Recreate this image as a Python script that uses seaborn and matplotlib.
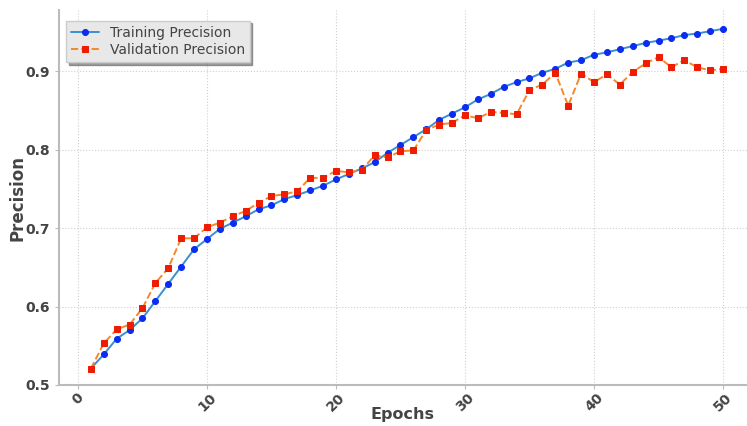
import matplotlib
matplotlib.use("Agg")
import matplotlib.pyplot as plt
import seaborn as sns
import numpy as np
import pandas as pd

epochs = list(range(1, 51))
train_precision = [0.521, 0.539, 0.559, 0.570, 0.585, 0.607, 0.629, 0.651, 0.673, 0.686,
                   0.699, 0.707, 0.715, 0.724, 0.729, 0.737, 0.742, 0.748, 0.754, 0.762,
                   0.769, 0.776, 0.784, 0.796, 0.806, 0.816, 0.826, 0.838, 0.846, 0.854,
                   0.864, 0.871, 0.880, 0.886, 0.891, 0.898, 0.903, 0.911, 0.914, 0.921,
                   0.924, 0.928, 0.932, 0.936, 0.939, 0.942, 0.946, 0.948, 0.951, 0.954]
val_precision = [0.521, 0.553, 0.571, 0.577, 0.598, 0.630, 0.649, 0.687, 0.687, 0.701,
                 0.707, 0.715, 0.722, 0.732, 0.741, 0.743, 0.747, 0.764, 0.764, 0.773,
                 0.771, 0.774, 0.793, 0.790, 0.798, 0.799, 0.825, 0.832, 0.834, 0.844,
                 0.840, 0.848, 0.847, 0.845, 0.876, 0.883, 0.898, 0.856, 0.897, 0.886,
                 0.896, 0.883, 0.899, 0.910, 0.918, 0.905, 0.914, 0.905, 0.901, 0.903]

df = pd.DataFrame({"Epochs": epochs, "Training Precision": train_precision,
                   "Validation Precision": val_precision})

sns.set_style("whitegrid", {"grid.linestyle": ":", "grid.color": "#d0d0d0",
                            "axes.edgecolor": "#bbbbbb"})
plt.rcParams['font.family'] = ['DejaVu Sans']

fig = plt.figure(figsize=(7.47, 4.26), dpi=100)
ax = fig.add_axes([59/747, 1 - 385/426, (747 - 59)/747, (385 - 10)/426])

sns.lineplot(data=df, x="Epochs", y="Training Precision", ax=ax, color="#3a8fd0",
             linewidth=1.4, marker="o", markersize=4.3, markerfacecolor="#0a2df0",
             markeredgecolor="#0a2df0", label="Training Precision")
sns.lineplot(data=df, x="Epochs", y="Validation Precision", ax=ax, color="#f5882a",
             linewidth=1.4, linestyle="--", marker="s", markersize=4.3,
             markerfacecolor="#ee1c00", markeredgecolor="#ee1c00",
             label="Validation Precision")

ax.set_xlim(-1.47, 51.86)
ax.set_ylim(0.5, 0.978)
ax.set_xticks([0, 10, 20, 30, 40, 50])
ax.set_yticks([0.5, 0.6, 0.7, 0.8, 0.9])
ax.set_yticklabels(["0.5", "0.6", "0.7", "0.8", "0.9"])
for lbl in ax.get_xticklabels():
    lbl.set_rotation(45)
    lbl.set_fontweight("bold")
    lbl.set_color("#444444")
for lbl in ax.get_yticklabels():
    lbl.set_fontweight("bold")
    lbl.set_color("#444444")
ax.tick_params(axis="both", labelsize=10, length=3, color="#bbbbbb", left=True, bottom=True)
ax.tick_params(axis="x", pad=1)
ax.set_xlabel("Epochs", fontsize=11.5, fontweight="bold", color="#444444", labelpad=-5)
ax.set_ylabel("Precision", fontsize=12, fontweight="bold", color="#444444", labelpad=-1)
ax.spines["top"].set_visible(False)
ax.spines["right"].set_visible(False)
ax.spines["left"].set_linewidth(1.5)
ax.spines["bottom"].set_linewidth(1.5)

leg = ax.legend(loc="upper left", fontsize=10, frameon=True, shadow=True, fancybox=False,
                bbox_to_anchor=(0.0, 0.99), labelspacing=0.25, borderpad=0.35)
leg.get_frame().set_facecolor("#e8e8e8")
leg.get_frame().set_edgecolor("#cccccc")
for t in leg.get_texts():
    t.set_color("#444444")

fig.savefig("out.png", dpi=100)
